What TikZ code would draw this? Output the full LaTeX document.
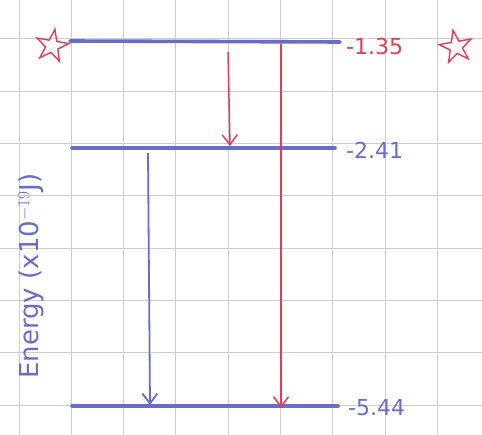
\documentclass[tikz,border=0pt]{standalone}
\usepackage{fontspec}
\setmainfont{DejaVu Sans}
\usetikzlibrary{shapes.geometric,arrows.meta}
\definecolor{pen}{RGB}{105,108,200}
\definecolor{redpen}{RGB}{228,60,85}
\definecolor{gridc}{RGB}{205,205,205}
\tikzset{
  level/.style={draw=pen,line width=3.6pt,line cap=round},
  redarrow/.style={draw=redpen,line width=1.5pt,-{Straight Barb[length=10pt,width=15pt]}},
  bluearrow/.style={draw=pen,line width=1.8pt,-{Straight Barb[length=10pt,width=15pt]}},
  vallabel/.style={text=pen,font=\fontsize{22}{26}\selectfont,anchor=west,inner sep=0pt},
  starmark/.style={star,star points=5,star point ratio=2.6,draw=redpen,line width=1.4pt,minimum size=34pt,inner sep=0pt}
}
\begin{document}
\begin{tikzpicture}[x=1pt,y=-1pt]
\useasboundingbox (0,0) rectangle (482,435);
\fill[white] (0,0) rectangle (482,435);
% grid
\foreach \i in {0,...,8} {
  \draw[gridc,line width=1pt] ({19+52.3*\i},0) -- ({19+52.3*\i},435);
}
\foreach \j in {0,...,7} {
  \draw[gridc,line width=1pt] (0,{39+52.3*\j}) -- (482,{39+52.3*\j});
}
% levels
\coordinate (t1) at (70,41);  \coordinate (t2) at (340,42);
\coordinate (m1) at (72,148); \coordinate (m2) at (335,148);
\coordinate (b1) at (72,406); \coordinate (b2) at (338,406);
\draw[level] (t1) -- (t2);
\draw[level] (m1) -- (m2);
\draw[level] (b1) -- (b2);
% transitions
\coordinate (r1s) at (228,52);  \coordinate (r1e) at (230,146);
\coordinate (r2s) at (281,44);  \coordinate (r2e) at (281,408);
\coordinate (bs) at (148,153);  \coordinate (be) at (150,405);
\draw[redarrow] (r1s) -- (r1e);
\draw[redarrow] (r2s) -- (r2e);
\draw[bluearrow] (bs) -- (be);
% labels
\node[vallabel,text=redpen] (l1) at (346,46) {-1.35};
\node[vallabel] (l2) at (346,150) {-2.41};
\node[vallabel] (l3) at (348,408) {-5.44};
\node[starmark,rotate=-10] (s1) at (52,46) {};
\node[starmark,rotate=10] (s2) at (456,47) {};
\node[text=pen,font=\fontsize{26}{30}\selectfont,rotate=90,inner sep=0pt] (ax) at (31,276) {Energy (x10$^{-19}$J)};
\end{tikzpicture}
\end{document}
